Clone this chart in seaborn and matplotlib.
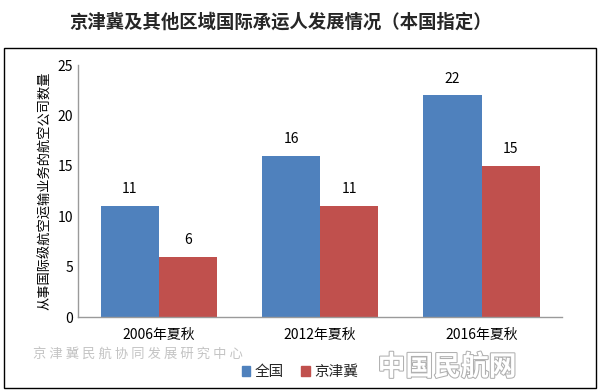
import numpy as np
import pandas as pd
import matplotlib
matplotlib.use("Agg")
from matplotlib import pyplot as plt
from matplotlib.patches import Rectangle
import matplotlib.patheffects as pe
import seaborn as sns

# chart data
seasons = ["2006年夏秋", "2012年夏秋", "2016年夏秋"]
series_names = ["全国", "京津冀"]
national = [11, 16, 22]
jjj = [6, 11, 15]

df = pd.DataFrame({
    "season": seasons * 2,
    "group": [series_names[0]] * 3 + [series_names[1]] * 3,
    "count": national + jjj,
})

sns.set_theme(style="white")
plt.rcParams['font.family'] = ['Noto Sans CJK SC', 'DejaVu Sans']

fig = plt.figure(figsize=(6, 3.9), dpi=100)
ax = fig.add_axes([0.13, 0.187, 0.807, 0.646])

palette = {"全国": "#4F81BD", "京津冀": "#C0504D"}
sns.barplot(data=df, x="season", y="count", hue="group", palette=palette,
            width=0.72, saturation=1, linewidth=0, ax=ax, legend=False)

for cont in ax.containers:
    ax.bar_label(cont, padding=7, fontsize=10, color="black")

ax.set_ylim(0, 25)
ax.set_yticks([0, 5, 10, 15, 20, 25])
ax.set_xlim(-0.5, 2.5)
ax.set_xlabel("")
ax.set_ylabel("从事国际级航空运输业务的航空公司数量", fontsize=9.5, color="black", labelpad=4)
ax.tick_params(axis="both", length=0, labelsize=10, colors="black")
ax.tick_params(axis="x", pad=8)
for side in ["top", "right"]:
    ax.spines[side].set_visible(False)
for side in ["left", "bottom"]:
    ax.spines[side].set_color("#9a9a9a")
    ax.spines[side].set_linewidth(1)

# legend
handles = [Rectangle((0, 0), 1, 1, color=palette[n]) for n in series_names]
fig.legend(handles, series_names, loc="center", bbox_to_anchor=(0.5, 0.046),
           ncol=2, frameon=False, fontsize=10.5, handlelength=0.6, handleheight=0.6,
           handletextpad=0.3, columnspacing=1.2)

# title and frame
fig.text(0.467, 0.944, "京津冀及其他区域国际承运人发展情况（本国指定）",
         ha="center", va="center", fontsize=13.2, fontweight="bold")
fig.patches.append(Rectangle((0.006, 0.005), 0.988, 0.872, transform=fig.transFigure,
                             fill=False, edgecolor="black", linewidth=1))

# watermarks
fig.text(0.055, 0.093, "京 津 冀 民 航 协 同 发 展 研 究 中 心", ha="left", va="center",
         fontsize=9.6, color="#c4c4c4")
wm = fig.text(0.745, 0.058, "中国民航网", ha="center", va="center", fontsize=20,
              color="white", fontweight="bold")
wm.set_path_effects([pe.withStroke(linewidth=1.5, foreground="#b0b0b0")])

fig.savefig("out.png", dpi=100)
